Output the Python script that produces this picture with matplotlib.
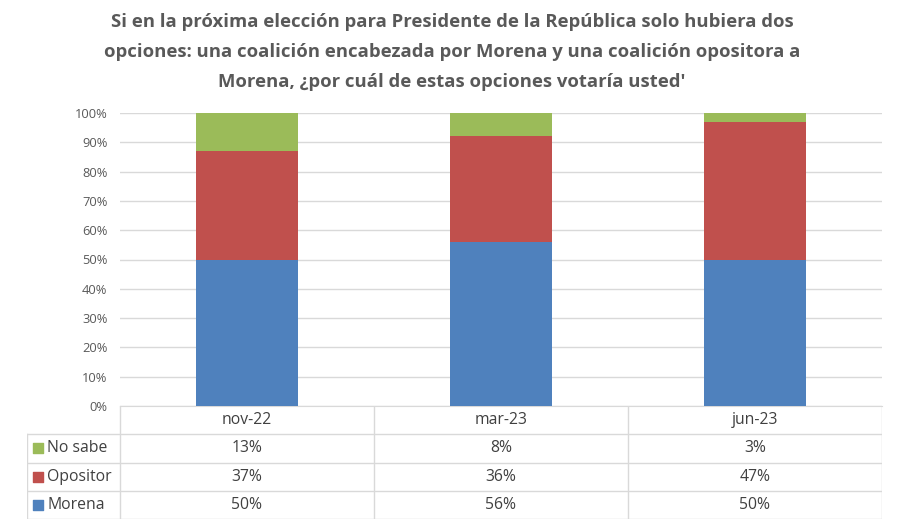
import matplotlib.pyplot as plt
import numpy as np

plt.rcParams['font.family'] = ['Open Sans', 'DejaVu Sans']

meses = ["nov-22", "mar-23", "jun-23"]
morena = [50, 56, 50]
opositor = [37, 36, 47]
no_sabe = [13, 8, 3]

series = [("No sabe", no_sabe, "#9BBB59"),
          ("Opositor", opositor, "#C0504D"),
          ("Morena", morena, "#4F81BD")]

titulo = ("Si en la próxima elección para Presidente de la República solo hubiera dos\n"
          "opciones: una coalición encabezada por Morena y una coalición opositora a\n"
          "Morena, ¿por cuál de estas opciones votaría usted'")

W, H = 900, 527
fig = plt.figure(figsize=(9, 5.27), dpi=100)

# plot area in pixels
x0, x1, y_top, y_bot = 120, 882, 113, 406
ax = fig.add_axes([x0 / W, 1 - y_bot / H, (x1 - x0) / W, (y_bot - y_top) / H])

x = np.arange(len(meses))
bottom = np.zeros(len(meses))
for nombre, vals, color in reversed(series):
    ax.bar(x, vals, width=0.4, bottom=bottom, color=color, zorder=3)
    bottom += np.array(vals)

ax.set_xlim(-0.5, len(meses) - 0.5)
ax.set_ylim(0, 100)
ax.set_yticks(range(0, 101, 10))
ax.set_yticklabels([f"{v}%" for v in range(0, 101, 10)], fontsize=9.3, color="#595959")
ax.set_xticks([])
ax.yaxis.grid(True, color="#D9D9D9", linewidth=1, zorder=0)
ax.tick_params(axis="y", length=0, pad=9)
for s in ["top", "right", "left"]:
    ax.spines[s].set_visible(False)
ax.spines["bottom"].set_color("#D9D9D9")

fig.text(452 / W, 1 - 13 / H, titulo, ha="center", va="top", fontsize=13.3,
         fontweight="bold", color="#595959", linespacing=1.87)

# data table below the axis
t_left, t_bot = 27, 519
tax = fig.add_axes([t_left / W, 1 - t_bot / H, (x1 - t_left) / W, (t_bot - y_bot) / H])
unit = (x1 - x0) / len(meses)
tax.set_xlim(-0.5 - (x0 - t_left) / unit, len(meses) - 0.5)
n_rows = len(series) + 1
tax.set_ylim(n_rows, 0)
tax.axis("off")
gc = "#D9D9D9"
fs = 11.3

# grid lines
for r in range(1, n_rows + 1):
    tax.plot([tax.get_xlim()[0], len(meses) - 0.5], [r, r], color=gc, lw=1)
tax.plot([tax.get_xlim()[0]] * 2, [1, n_rows], color=gc, lw=1)
for b in np.arange(len(meses) + 1) - 0.5:
    tax.plot([b, b], [0, n_rows], color=gc, lw=1)

for i, m in enumerate(meses):
    tax.text(i, 0.5, m, ha="center", va="center", fontsize=fs, color="#404040")
for r, (nombre, vals, color) in enumerate(series, start=1):
    xl = tax.get_xlim()[0]
    tax.scatter([xl + 0.043], [r + 0.5], marker="s", s=55, color=color, clip_on=False)
    tax.text(xl + 0.08, r + 0.5, nombre, ha="left", va="center", fontsize=fs, color="#404040")
    for i, v in enumerate(vals):
        tax.text(i, r + 0.5, f"{v}%", ha="center", va="center", fontsize=fs, color="#404040")

fig.savefig("out.png", dpi=100)
